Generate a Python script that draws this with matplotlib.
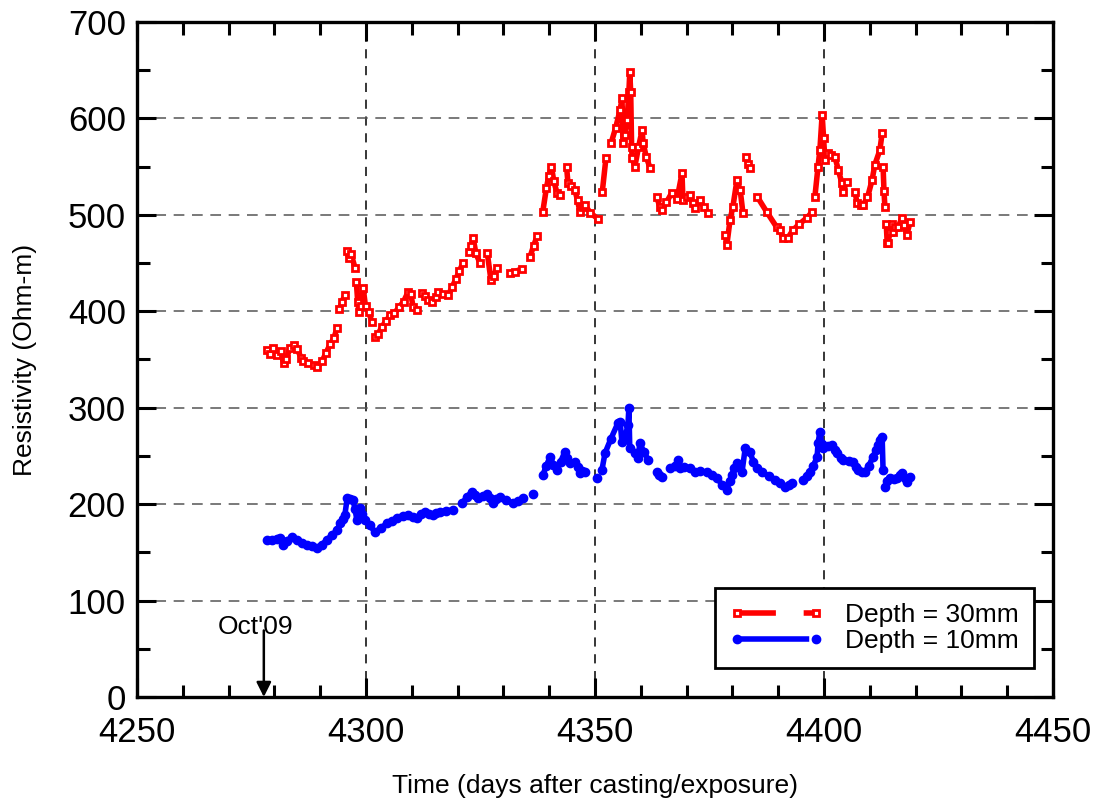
import numpy as np
import matplotlib
matplotlib.use("Agg")
import matplotlib.pyplot as plt
from matplotlib.lines import Line2D
from matplotlib.ticker import MultipleLocator

nan = np.nan

# Depth = 30 mm (red)
red_days = [4278.3, 4279.0, 4279.8, 4280.6, 4281.4, 4282.0, 4282.6, 4283.4, 4284.2, 4285.0,
            4285.8, 4286.3, 4287.3, 4288.6, 4289.4, 4290.4, 4291.3, 4292.2, 4293.0, 4293.7, nan,
            4294.2, 4294.8, 4295.4, nan,
            4295.8, 4296.3, 4296.8, 4297.6, nan,
            4297.9, 4298.2, 4298.5, 4299.0, 4299.4, 4299.9, 4300.6, 4301.3, nan,
            4302.0, 4302.6, 4303.5, 4304.4, 4305.3, 4306.2, 4307.2, 4308.2, 4309.2, 4309.8,
            4310.3, 4311.2, nan,
            4312.2, 4312.9, 4313.6, 4314.4, 4315.2, 4315.8, 4316.8, 4318.0, 4318.8, 4319.6,
            4320.4, 4321.2, nan,
            4322.6, 4323.0, 4323.4, 4324.0, 4324.9, nan,
            4326.5, 4327.3, 4327.9, 4328.6, nan,
            4331.4, 4332.5, 4334.0, nan,
            4335.8, 4336.6, 4337.4, nan,
            4338.6, 4339.4, 4339.9, 4340.5, 4341.0, 4341.7, 4342.4, nan,
            4343.8, 4344.1, 4344.8, 4345.6, 4346.2, 4346.7, 4347.3, 4347.8, 4349.0, 4350.6, nan,
            4351.6, 4352.4, nan,
            4353.5, 4354.5, 4355.5, 4355.9, 4356.1, 4356.5, 4357.0, 4357.4, 4357.6, 4357.8,
            4358.0, 4358.1, 4358.7, 4359.5, 4360.3, 4360.5, 4361.2, 4362.0, nan,
            4363.5, 4364.2, 4364.6, 4365.6, 4366.8, 4367.9, 4369.0, 4369.2, 4370.0, 4370.7,
            4371.3, 4371.8, 4372.9, 4373.8, 4374.7, nan,
            4378.4, 4378.8, 4379.5, 4380.1, 4381.0, 4381.7, 4382.3, nan,
            4383.0, 4383.4, 4383.8, nan,
            4385.4, 4387.5, 4389.7, 4390.4, 4391.0, 4392.1, 4393.2, 4394.5, 4396.3, 4397.4, nan,
            4398.0, 4398.7, 4399.1, 4399.6, 4399.9, 4400.2, 4400.9, 4401.6, 4402.4, 4403.1,
            4403.9, 4404.1, 4405.0, nan,
            4406.8, 4407.2, 4408.0, 4408.5, 4409.5, 4410.5, 4411.1, 4412.2, 4412.7, nan,
            4412.9, 4413.1, 4413.3, nan,
            4413.6, 4413.8, 4414.0, 4414.4, 4414.8, 4415.0, 4415.6, 4416.2, 4417.0, 4417.5,
            4418.1, 4418.8]
red_vals = [360, 356, 362, 355, 359, 346, 350, 362, 365, 361,
            352, 348, 346, 344, 342, 348, 357, 366, 372, 383, nan,
            402, 410, 417, nan,
            462, 455, 459, 445, nan,
            430, 410, 399, 405, 424, 405, 399, 389, nan,
            373, 376, 384, 390, 396, 398, 404, 410, 420, 418,
            404, 401, nan,
            419, 416, 412, 410, 415, 420, 418, 417, 425, 433,
            442, 450, nan,
            461, 468, 476, 460, 450, nan,
            460, 432, 437, 445, nan,
            440, 441, 444, nan,
            456, 468, 478, nan,
            503, 528, 540, 550, 535, 523, 521, nan,
            550, 533, 530, 526, 515, 503, 508, 510, 502, 496, nan,
            524, 559, nan,
            574, 590, 609, 621, 575, 583, 598, 627, 648, 627,
            570, 559, 550, 570, 588, 575, 560, 549, nan,
            518, 508, 505, 513, 523, 516, 543, 515, 518, 521,
            512, 507, 515, 508, 502, nan,
            479, 469, 495, 508, 536, 526, 502, nan,
            560, 553, 549, nan,
            519, 503, 487, 484, 476, 476, 484, 490, 497, 503, nan,
            518, 550, 567, 604, 580, 557, 564, 562, 560, 547,
            533, 524, 534, nan,
            524, 512, 510, 510, 518, 536, 552, 567, 585, nan,
            550, 525, 508, nan,
            490, 471, 471, 482, 490, 482, 487, 487, 497, 489,
            479, 493]

# Depth = 10 mm (blue)
blue_days = [4278.4, 4279.5, 4280.5, 4281.2, 4281.9, 4282.8, 4283.8, 4285.0, 4286.0, 4287.1,
             4288.2, 4289.3, 4290.4, 4291.5, 4292.6, 4293.7, 4294.3, 4295.0, 4295.4, 4295.9,
             4296.6, 4297.2, 4297.6, 4298.0, 4298.7, 4299.2, 4299.8, 4300.8, 4302.0, 4303.2,
             4304.6, 4305.7, 4306.8, 4308.0, 4309.2, 4310.2, 4311.1, 4312.0, 4312.9, 4313.8,
             4314.6, 4315.4, 4316.2, 4317.5, 4319.0, nan,
             4321.0, 4322.0, 4323.1, 4323.8, 4324.5, 4325.5, 4326.4, 4327.0, 4327.7, 4328.5,
             4329.3, 4330.5, 4332.1, 4333.3, 4334.3, nan,
             4336.5, nan,
             4338.6, 4339.4, 4340.2, 4340.9, 4341.7, 4342.5, 4343.4, 4344.0, 4344.5, 4345.6,
             4346.2, 4346.7, 4347.2, 4347.8, nan,
             4350.4, nan,
             4351.5, 4352.2, 4353.5, 4355.0, 4355.5, 4355.9, 4356.5, 4357.2, 4357.4, 4357.6,
             4358.7, 4359.4, 4359.8, 4360.7, 4361.6, nan,
             4363.5, 4364.0, 4364.6, nan,
             4366.4, 4367.5, 4368.1, 4368.6, 4369.5, 4370.7, 4371.8, 4373.0, 4374.5, 4375.5,
             4376.6, 4377.8, 4378.8, 4379.4, 4379.9, 4380.4, 4381.0, 4382.1, 4382.8, 4383.8,
             4384.6, 4385.4, 4386.5, 4388.0, 4389.3, 4390.4, 4391.5, 4392.3, 4393.0, nan,
             4395.4, 4396.2, 4396.9, 4397.7, 4398.5, 4398.7, 4399.1, 4399.5, 4399.8, 4400.8,
             4401.7, 4402.3, 4402.8, nan,
             4403.8, 4404.1, nan,
             4405.5, 4406.3, 4407.0, 4407.4, 4408.2, 4408.9, 4409.8, 4410.7, 4411.3, 4411.8,
             4412.3, 4412.7, 4412.9, nan,
             4413.3, 4413.8, 4414.4, 4415.2, 4415.9, 4416.5, 4417.0, 4417.6, 4418.1, 4418.8]
blue_vals = [163, 163, 164, 165, 158, 162, 166, 163, 160, 158,
             157, 155, 158, 163, 168, 173, 180, 185, 189, 206,
             205, 204, 195, 184, 196, 190, 184, 178, 171, 175,
             180, 183, 186, 188, 189, 187, 186, 190, 192, 190,
             189, 191, 192, 193, 194, nan,
             201, 207, 213, 209, 206, 208, 211, 206, 201, 205,
             207, 204, 201, 203, 206, nan,
             211, nan,
             230, 240, 249, 241, 235, 244, 254, 248, 243, 244,
             238, 232, 234, 233, nan,
             227, nan,
             235, 253, 268, 284, 285, 264, 268, 282, 300, 258,
             253, 248, 263, 254, 246, nan,
             233, 230, 228, nan,
             237, 240, 246, 237, 238, 237, 233, 234, 233, 230,
             227, 220, 215, 224, 230, 237, 243, 233, 258, 254,
             244, 237, 233, 229, 225, 222, 218, 220, 222, nan,
             225, 229, 233, 240, 249, 263, 275, 262, 258, 260,
             261, 256, 253, nan,
             248, 246, nan,
             245, 244, 238, 235, 233, 233, 240, 249, 256, 261,
             266, 270, 235, nan,
             218, 224, 227, 226, 227, 230, 232, 227, 223, 228]

x_ticks = [4250, 4300, 4350, 4400, 4450]
y_ticks = [0, 100, 200, 300, 400, 500, 600, 700]
series_labels = ["Depth = 30mm", "Depth = 10mm"]
annot_day = 4277.7
annot_text = "Oct'09"

plt.rcParams['font.family'] = ['Liberation Sans', 'DejaVu Sans']

fig = plt.figure(figsize=(10.93, 8.05), dpi=100)
ax = fig.add_axes([0.1253, 0.1342, 0.8381, 0.8385])

RED = '#ff0000'
BLUE = '#0000ff'

ax.plot(red_days, red_vals, color=RED, lw=4.0, marker='s', ms=4.8,
        mfc='white', mec=RED, mew=2.0, solid_capstyle='round', zorder=3)
ax.plot(blue_days, blue_vals, color=BLUE, lw=4.0, marker='o', ms=6,
        mfc=BLUE, mec=BLUE, solid_capstyle='round', zorder=3)

ax.set_xlim(4250, 4450)
ax.set_ylim(0, 700)
ax.set_xticks(x_ticks)
ax.set_yticks(y_ticks)
ax.xaxis.set_minor_locator(MultipleLocator(10))
ax.yaxis.set_minor_locator(MultipleLocator(50))

for xv in x_ticks[1:-1]:
    ax.axvline(xv, color='black', lw=1.1, ls=(0, (6, 5)), zorder=1)
for yv in y_ticks[1:-1]:
    ax.axhline(yv, color='#555555', lw=1.1, ls=(0, (7, 5)), zorder=1)

for s in ax.spines.values():
    s.set_linewidth(2.4)
ax.tick_params(which='major', direction='in', length=14, width=2.2,
               top=True, right=True, labelsize=25)
ax.tick_params(axis='x', which='major', pad=14)
ax.tick_params(axis='y', which='major', pad=8)
ax.tick_params(which='minor', direction='in', length=9, width=2.2,
               top=True, right=True)

ax.set_xlabel("Time (days after casting/exposure)", fontsize=19, labelpad=18)
ax.set_ylabel("Resistivity (Ohm-m)", fontsize=19, labelpad=22)

ax.annotate("", xy=(annot_day, 0), xytext=(annot_day, 69),
            arrowprops=dict(arrowstyle='-|>', color='black', lw=1.8,
                            mutation_scale=22, shrinkA=0, shrinkB=0),
            zorder=5)
ax.text(annot_day - 1.8, 73, annot_text, ha='center', va='center', fontsize=19, zorder=5)

h_red = Line2D([0, 1], [0, 1], color=RED, lw=4.0, ls=(0, (7, 5)), marker='s', ms=4.8,
               mfc='white', mec=RED, mew=2.0, markevery=[1])
h_blue = Line2D([0, 1], [0, 1], color=BLUE, lw=4.0, ls=(0, (13, 5)), marker='o', ms=6,
                mfc=BLUE, mec=BLUE, markevery=[1])
leg = ax.legend([h_red, h_blue], series_labels, loc='lower right',
                bbox_to_anchor=(0.979, 0.043), fontsize=19, frameon=True,
                fancybox=False, edgecolor='black', framealpha=1, numpoints=2,
                handlelength=3.6, borderpad=0.55, labelspacing=0.1,
                handletextpad=0.8, borderaxespad=0)
leg.get_frame().set_linewidth(2.0)

fig.savefig("out.png", dpi=100)
